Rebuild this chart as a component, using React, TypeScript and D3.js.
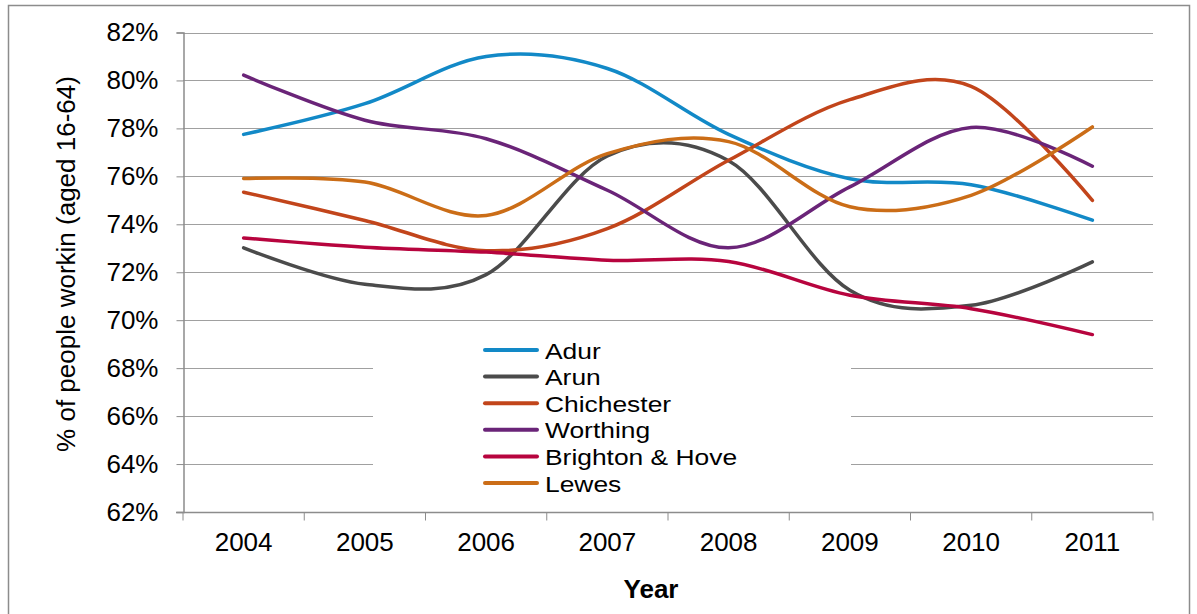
import { useEffect, useRef } from "react"
import * as d3 from "d3"

const years = ["2004", "2005", "2006", "2007", "2008", "2009", "2010", "2011"]
const yTicks = [62, 64, 66, 68, 70, 72, 74, 76, 78, 80, 82]

const adur = [77.75, 79.03, 81.0, 80.5, 77.75, 75.9, 75.65, 74.17]
const arun = [73.02, 71.5, 71.9, 76.85, 76.65, 71.25, 70.62, 72.43]
const chichester = [75.34, 74.16, 72.9, 73.82, 76.67, 79.2, 79.75, 75.0]
const worthing = [80.22, 78.34, 77.57, 75.42, 73.02, 75.56, 78.04, 76.42]
const brightonHove = [73.43, 73.04, 72.84, 72.5, 72.45, 71.04, 70.48, 69.4]
const lewes = [75.91, 75.76, 74.37, 76.95, 77.45, 74.73, 75.21, 78.06]

const seriesNames = ["Adur", "Arun", "Chichester", "Worthing", "Brighton & Hove", "Lewes"]
const seriesValues = [adur, arun, chichester, worthing, brightonHove, lewes]
const seriesColors = ["#1289c7", "#4b4b4b", "#c2451b", "#6a2478", "#b7043e", "#cb6d17"]

export default function App() {
  const svgRef = useRef<SVGSVGElement>(null)

  useEffect(() => {
    if (!svgRef.current) return
    const svg = d3.select(svgRef.current)
    svg.selectAll("*").remove()

    const width = 1197
    const height = 614
    const font = "'Liberation Sans', Arial, sans-serif"
    const plot = { left: 183, right: 1153, top: 32.5, bottom: 512 }

    // outer frame
    svg.append("rect")
      .attr("x", 8.5).attr("y", 5.5)
      .attr("width", 1181).attr("height", 620)
      .attr("fill", "#fff").attr("stroke", "#8c8c8c").attr("stroke-width", 1.5)

    const x = d3.scaleBand<string>()
      .domain(years)
      .range([plot.left, plot.right])

    const y = d3.scaleLinear()
      .domain([62, 82])
      .range([plot.bottom, plot.top])

    const cx = (d: string) => (x(d) || 0) + x.bandwidth() / 2

    // gridlines
    svg.append("g")
      .selectAll("line")
      .data(yTicks.filter(t => t !== 62))
      .join("line")
      .attr("x1", plot.left).attr("x2", plot.right)
      .attr("y1", d => Math.round(y(d)) + 0.5).attr("y2", d => Math.round(y(d)) + 0.5)
      .attr("stroke", "#a0a0a0").attr("stroke-width", 1.2)

    // y axis
    const yAxis = svg.append("g")
      .attr("transform", `translate(${plot.left + 0.5},0)`)
      .call(d3.axisLeft(y).tickValues(yTicks).tickSize(7).tickPadding(18).tickFormat(d => `${d}%`))
    yAxis.select(".domain").attr("stroke", "#8c8c8c").attr("stroke-width", 1.5)
    yAxis.selectAll(".tick line").attr("stroke", "#8c8c8c")
    yAxis.selectAll(".tick text")
      .attr("fill", "#000").style("font-family", font).style("font-size", "26px")

    // x axis
    const xAxis = svg.append("g")
      .attr("transform", `translate(0,${plot.bottom + 0.5})`)
      .call(d3.axisBottom(x).tickSize(0).tickPadding(20))
    xAxis.select(".domain").attr("stroke", "#8c8c8c").attr("stroke-width", 1.5)
      .attr("d", `M${plot.left - 7},0H${plot.right}`)
    xAxis.selectAll(".tick text")
      .attr("fill", "#000").style("font-family", font).style("font-size", "26px")
    xAxis.append("g")
      .selectAll("line")
      .data(years.concat(["end"]))
      .join("line")
      .attr("x1", (d, i) => i < years.length ? (x(d) || 0) : plot.right)
      .attr("x2", (d, i) => i < years.length ? (x(d) || 0) : plot.right)
      .attr("y1", 0).attr("y2", 8)
      .attr("stroke", "#8c8c8c")

    // axis titles
    svg.append("text")
      .attr("transform", `translate(75,264) rotate(-90)`)
      .attr("text-anchor", "middle")
      .style("font-family", font).style("font-size", "26px")
      .text("% of people workin (aged 16-64)")

    svg.append("text")
      .attr("x", 651).attr("y", 598)
      .attr("text-anchor", "middle")
      .style("font-family", font).style("font-size", "26px").style("font-weight", "bold")
      .text("Year")

    // lines
    const line = d3.line<number>()
      .x((_d, i) => cx(years[i]))
      .y(d => y(d))
      .curve(d3.curveCardinal.tension(0))

    const lineGroup = svg.append("g")
    seriesValues.forEach((vals, i) => {
      lineGroup.append("path")
        .datum(vals)
        .attr("fill", "none")
        .attr("stroke", seriesColors[i])
        .attr("stroke-width", 3.5)
        .attr("stroke-linecap", "round")
        .attr("d", line)
    })

    // legend
    const legend = svg.append("g")
    legend.append("rect")
      .attr("x", 373).attr("y", 336)
      .attr("width", 478).attr("height", 162)
      .attr("fill", "#fff")
    seriesNames.forEach((name, i) => {
      const ly = 350 + i * 26.6
      legend.append("line")
        .attr("x1", 485).attr("x2", 537)
        .attr("y1", ly).attr("y2", ly)
        .attr("stroke", seriesColors[i]).attr("stroke-width", 4)
        .attr("stroke-linecap", "round")
      legend.append("text")
        .attr("transform", `translate(545,${ly + 8.5}) scale(1.2,1)`)
        .style("font-family", font).style("font-size", "22px")
        .text(name)
    })

    svg.attr("width", width).attr("height", height)
  }, [])

  return (
    <svg ref={svgRef} width={1197} height={614}
      style={{ position: "absolute", left: 0, top: 0, display: "block" }} />
  )
}
